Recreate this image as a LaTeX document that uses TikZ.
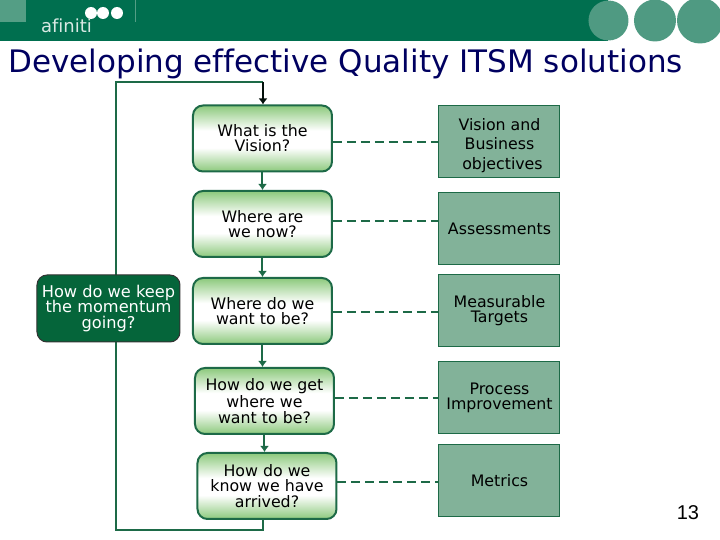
\documentclass[tikz,border=0pt]{standalone}
\usepackage{fontspec}
\setmainfont[Ligatures=NoCommon]{DejaVu Sans}
\newfontfamily\pagefont{Liberation Sans}
\usetikzlibrary{arrows.meta,calc}
\definecolor{afiBand}{HTML}{006F4F}
\definecolor{afiSquare}{HTML}{549E85}
\definecolor{afiDot}{HTML}{4F9A82}
\definecolor{afiLine}{HTML}{1D6A47}
\definecolor{afiDark}{HTML}{05653A}
\definecolor{afiLeaf}{HTML}{8CC97C}
\definecolor{afiSage}{HTML}{82B299}
\definecolor{afiTitle}{HTML}{000060}
\pgfdeclareverticalshading{afiShade}{100bp}{color(0bp)=(afiLeaf); color(25bp)=(afiLeaf); color(43bp)=(white); color(56bp)=(white); color(75bp)=(afiLeaf); color(100bp)=(afiLeaf)}
\tikzset{
  afiArrow/.style={-{Latex[length=3pt,width=4.5pt]}, line width=1pt, draw=afiLine},
  afiLoop/.style={line width=1pt, draw=afiLine},
  afiDash/.style={line width=0.75pt, draw=afiLine, dash pattern=on 4.5pt off 2.5pt},
  afiQuestion/.style={
    draw=afiLine,
    shading=afiShade,
    rounded corners=5pt,
    line width=1pt,
    align=center,
    font=\fontsize{7.9}{7.6}\selectfont,
    minimum width=69.5pt,
    minimum height=33pt,
    inner sep=0pt
  },
  afiAnswer/.style={
    draw=afiLine,
    fill=afiSage,
    line width=0.5pt,
    align=center,
    font=\fontsize{7.9}{7.6}\selectfont,
    minimum width=60.5pt,
    minimum height=36pt,
    inner sep=0pt
  },
  afiKeep/.style={
    draw=black!80,
    fill=afiDark,
    text=white,
    rounded corners=5pt,
    line width=0.5pt,
    align=center,
    font=\fontsize{8.1}{7.9}\selectfont,
    minimum width=71.5pt,
    minimum height=33.5pt,
    inner sep=0pt
  }
}
\begin{document}
\begin{tikzpicture}[x=0.5pt, y=-0.5pt]
  \useasboundingbox (0,0) rectangle (720,540);
  % header band
  \fill[afiBand] (0,0) rectangle (608,41);
  \fill[afiSquare] (0,0) rectangle (26,22);
  \draw[afiSquare, line width=0.3pt] (135,0) -- (135,22);
  \fill[afiDot] (608.5,20.5) circle[radius=20];
  \fill[afiDot] (655,20.5) circle[radius=21];
  \fill[afiDot] (700,20.5) circle[radius=23];
  \foreach \x in {91,103,117}
    \fill[white] (\x,13) circle[radius=6];
  \node[text=white!85!afiBand, font=\fontsize{9}{9}\selectfont, inner sep=0pt] (logo) at (66.5,26) {afiniti};
  \node[text=afiTitle, font=\fontsize{15.5}{16}\selectfont, inner sep=0pt, anchor=west] (title) at (8,63.5) {Developing effective Quality ITSM solutions};

  \node[afiQuestion] (vision) at (262.5,138.5) {What is the\hspace{3pt}\\Vision?\hspace{3pt}};
  \node[afiQuestion] (now) at (262.5,224) {Where are\\ we now?};
  \node[afiQuestion] (want) at (262.5,311) {Where do we\\want to be?};
  \node[afiQuestion] (get) at (264.5,401) {How do we get\hspace{2pt}\\where we\hspace{2pt}\\want to be?\hspace{2pt}};
  \node[afiQuestion] (arrived) at (267,486) {How do we\hspace{3pt}\\know we have\hspace{3pt}\\arrived?\hspace{3pt}};

  \node[afiAnswer, font=\fontsize{7.9}{9.6}\selectfont] (objectives) at (499.5,141.5) {\rule{0pt}{10pt}Vision and\hspace{3pt}\\Business\\\hspace{3pt}objectives};
  \node[afiAnswer] (assess) at (499.5,229) {Assessments};
  \node[afiAnswer] (targets) at (499.5,311) {Measurable\\Targets};
  \node[afiAnswer] (process) at (499.5,398) {Process\\Improvement};
  \node[afiAnswer] (metrics) at (499.5,481) {Metrics};

  \foreach \a/\b in {vision/now,now/want,want/get,get/arrived}
    \draw[afiArrow] (\a.south) -- (\a.south |- \b.north);
  \foreach \a/\b/\d in {vision/objectives/3.5,now/assess/-3,want/targets/1,get/process/-3,arrived/metrics/-4}
    \draw[afiDash] ($(\a.east)+(0,\d)$) -- ($(\b.west |- \a.east)+(0,\d)$);

  \coordinate (loopBottom) at (263,530);
  \coordinate (loopLeft) at (116,530);
  \coordinate (loopTop) at (116,82);
  \coordinate (loopRight) at (263,82);
  \draw[afiLoop] (loopBottom |- arrived.south) -- (loopBottom) -- (loopLeft) -- (loopTop) -- (loopRight);
  \draw[-{Latex[length=3pt,width=4.5pt]}, line width=1pt, draw=black!85!afiLine] (loopRight) -- (loopRight |- vision.north);
  \node[afiKeep] (keep) at (108.5,308.5) {How do we keep\\ the momentum\\going?};

  \node[font=\pagefont\fontsize{10}{10}\selectfont, inner sep=0pt] (page) at (688,513) {13};
\end{tikzpicture}
\end{document}
